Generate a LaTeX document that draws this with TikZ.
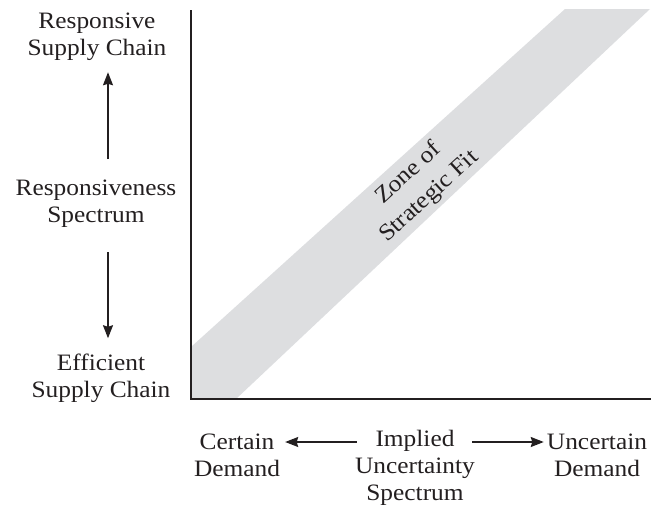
\documentclass[tikz,border=0pt]{standalone}
\usepackage{fontspec}
\setmainfont{Liberation Serif}[FakeStretch=1.08]
\usepackage{tikz}
\usetikzlibrary{arrows.meta,positioning,calc}

\definecolor{zonegray}{RGB}{221,222,224}
\definecolor{inkblack}{RGB}{35,31,32}

\begin{document}
\begin{tikzpicture}[
    x=1pt, y=-1pt,
    font=\fontsize{23.5}{27}\selectfont,
    lbl/.style={align=center, inner sep=0pt, text=inkblack, anchor=base},
    axis/.style={line width=1.8pt, draw=inkblack},
    arr/.style={-{Stealth[length=13pt, width=10pt, inset=1.5pt]}, line width=1.5pt, draw=inkblack},
    zone/.style={fill=zonegray}
  ]
    \useasboundingbox (0,0) rectangle (651,504);

    % Zone band
    \fill[zone] (191,347) -- (565,9) -- (650,9) -- (236,399) -- (191,399) -- cycle;
    \node[lbl, anchor=center, rotate=42.5, font=\fontsize{23.5}{31}\selectfont] (fit) at (419,185) {Zone of\\Strategic Fit};

    % Axes
    \draw[axis] (191,10) -- (191,399) -- (651,399);

    % Vertical spectrum labels (anchored at the last baseline)
    \node[lbl] (resp) at (97,55) {Responsive\\Supply Chain};
    \node[lbl] (spec) at (96,222) {Responsiveness\\Spectrum};
    \node[lbl] (eff) at (101,397) {Efficient\\Supply Chain};

    % Horizontal spectrum labels
    \node[lbl] (cert) at (237,476) {Certain\\Demand};
    \node[lbl] (impl) at (415,500) {Implied\\Uncertainty\\Spectrum};
    \node[lbl] (unc) at (597,476) {Uncertain\\Demand};

    % Arrow levels
    \coordinate (varr) at (108,0);
    \coordinate (harr) at (0,442);

    % Spectrum arrows
    \draw[arr, shorten <=20pt, shorten >=12pt] (spec.north -| varr) -- (resp.south -| varr);
    \draw[arr, shorten <=25pt, shorten >=15pt] (spec.south -| varr) -- (eff.north -| varr);
    \draw[arr, shorten <=-2pt, shorten >=5pt] (impl.west |- harr) -- (cert.east |- harr);
    \draw[arr, shorten <=-3pt, shorten >=3pt] (impl.east |- harr) -- (unc.west |- harr);
  \end{tikzpicture}
\end{document}
